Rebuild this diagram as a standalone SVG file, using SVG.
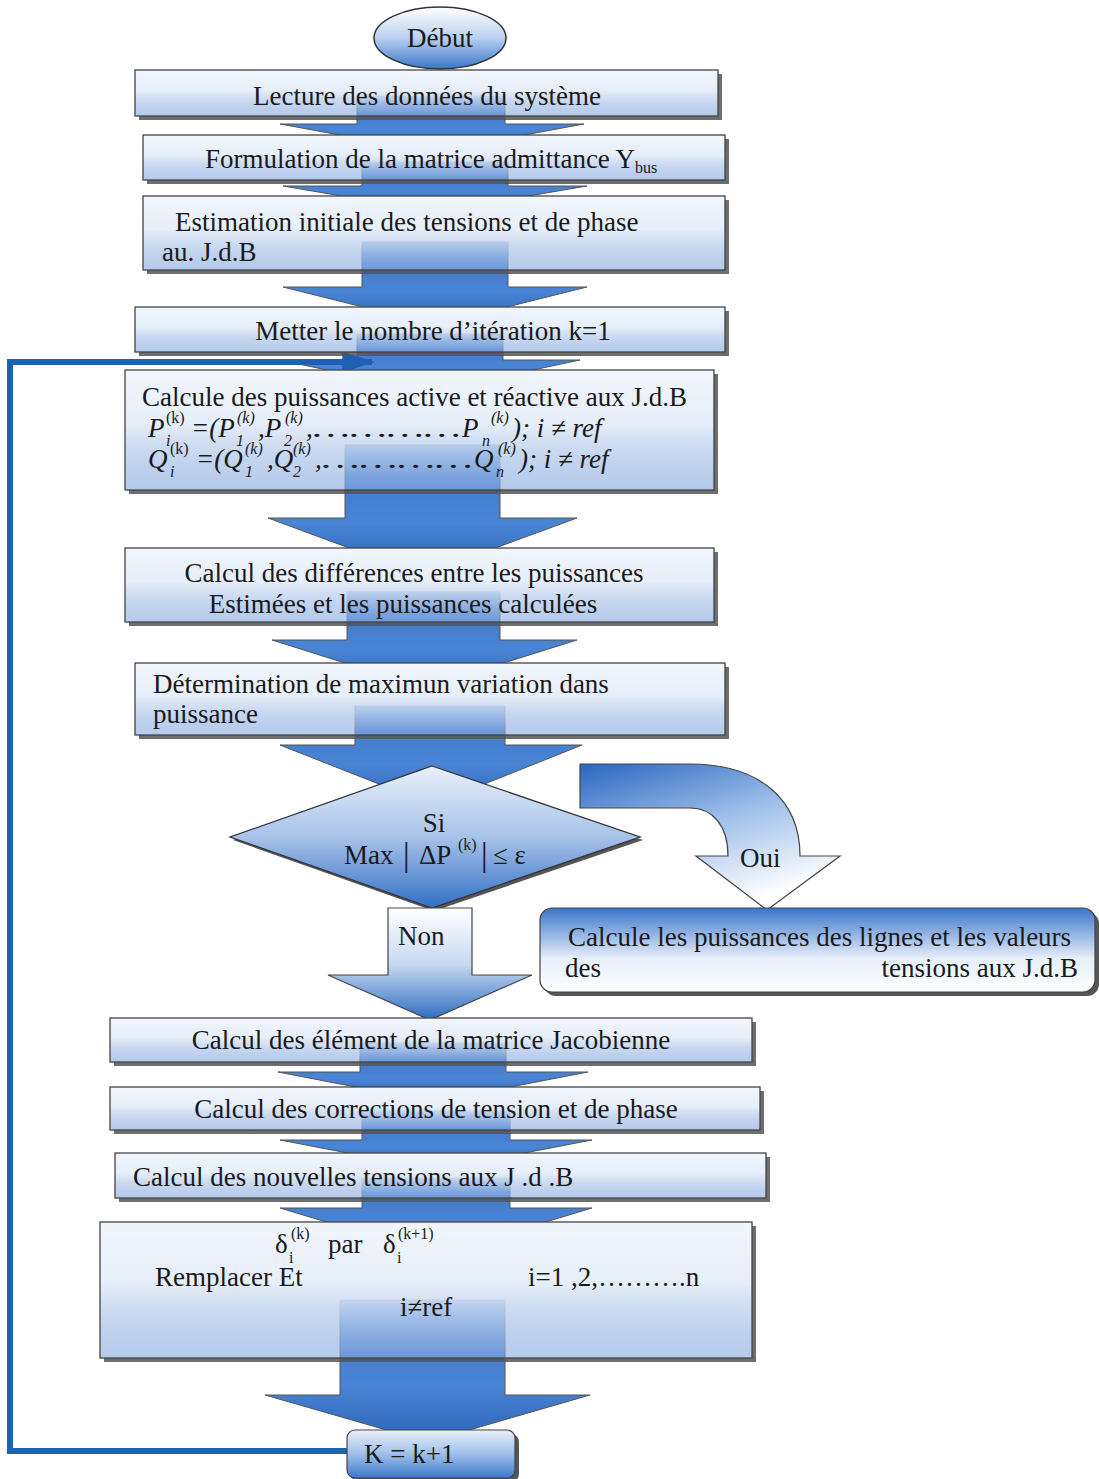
<svg xmlns="http://www.w3.org/2000/svg" width="1099" height="1479" viewBox="0 0 1099 1479">
<defs>
<linearGradient id="gBox" x1="0" y1="0" x2="0" y2="1">
<stop offset="0" stop-color="#f2f6fc"/>
<stop offset="0.45" stop-color="#e6eef9"/>
<stop offset="1" stop-color="#86a9de" stop-opacity="0.6"/>
</linearGradient>
<linearGradient id="gArrow" x1="0" y1="0" x2="0" y2="1">
<stop offset="0" stop-color="#3a76cc"/>
<stop offset="0.6" stop-color="#4a84d4"/>
<stop offset="1" stop-color="#2a63b8"/>
</linearGradient>
<linearGradient id="gDia" x1="0" y1="0" x2="0" y2="1">
<stop offset="0" stop-color="#eaf0f9"/>
<stop offset="0.5" stop-color="#a7c2ea"/>
<stop offset="1" stop-color="#336fc4"/>
</linearGradient>
<linearGradient id="gNon" x1="0" y1="0" x2="0" y2="1">
<stop offset="0" stop-color="#ffffff"/>
<stop offset="0.5" stop-color="#c7d9f2"/>
<stop offset="1" stop-color="#2f6cc2"/>
</linearGradient>
<linearGradient id="gOui" x1="0" y1="0" x2="0.55" y2="1">
<stop offset="0" stop-color="#2a66bf"/>
<stop offset="0.5" stop-color="#9bbde9"/>
<stop offset="1" stop-color="#ffffff"/>
</linearGradient>
<linearGradient id="gRound" x1="0" y1="0" x2="0" y2="1">
<stop offset="0" stop-color="#3a76ca"/>
<stop offset="0.6" stop-color="#e6eef9"/>
<stop offset="1" stop-color="#ffffff"/>
</linearGradient>
<linearGradient id="gEll" x1="0" y1="0" x2="0" y2="1">
<stop offset="0" stop-color="#ffffff"/>
<stop offset="0.5" stop-color="#b9d0f0"/>
<stop offset="1" stop-color="#3a76ca"/>
</linearGradient>
<linearGradient id="gK" x1="0" y1="0" x2="0" y2="1">
<stop offset="0" stop-color="#e9f0fa"/>
<stop offset="0.5" stop-color="#9fbfe9"/>
<stop offset="1" stop-color="#3c78cc"/>
</linearGradient>
<marker id="mLoop" viewBox="0 0 10 10" refX="9" refY="5" markerWidth="5.5" markerHeight="3.5" markerUnits="strokeWidth" orient="auto" preserveAspectRatio="none">
<path d="M0,0 L10,5 L0,10 z" fill="#1f60b4"/>
</marker>
</defs>
<style>
text{font-family:'Liberation Serif','DejaVu Serif',serif;fill:#1a1a1a}
.t{font-size:27px}
.ti{font-size:27px;font-style:italic}
.s{font-size:16px;font-style:normal}
.si{font-size:16px;font-style:italic}
.bar{font-size:33px}
.box{fill:url(#gBox);stroke:#444;stroke-width:1.3}
.sh{fill:#555;opacity:0.85}
.arr{fill:url(#gArrow);stroke:#555;stroke-width:1}
</style>
<rect width="1099" height="1479" fill="#ffffff"/>

<g id="connectors">
<path class="arr" d="M357,96 H505 V124 H584 L432,152 L280,124 H357 Z"/>
<path class="arr" d="M362,162 H508 V186 H587 L435,212 L283,186 H362 Z"/>
<path class="arr" d="M362,242 H508 V287 H587 L435,325 L283,287 H362 Z"/>
<path class="arr" d="M357,334 H503 V360 H580 L430,392 L280,360 H357 Z"/>
<path class="arr" d="M345,445 H500 V518 H577 L422,575 L268,518 H345 Z"/>
<path class="arr" d="M347,592 H500 V640 H577 L424,688 L272,640 H347 Z"/>
<path class="arr" d="M355,706 H505 V745 H582 L432,805 L280,745 H355 Z"/>
<path class="arr" d="M360,1043 H506 V1072 H588 L433,1102 L278,1072 H360 Z"/>
<path class="arr" d="M362,1111 H510 V1140 H592 L436,1170 L280,1140 H362 Z"/>
<path class="arr" d="M362,1178 H510 V1208 H592 L436,1255 L280,1208 H362 Z"/>
<path class="arr" d="M340,1300 H505 V1395 H590 L428,1442 L265,1395 H340 Z"/>
<path d="M347,1451 H10 V362 H372" fill="none" stroke="#1f60b4" stroke-width="6" marker-end="url(#mLoop)"/>
</g>

<g id="debut">
<ellipse cx="440" cy="38" rx="66" ry="31" fill="url(#gEll)" stroke="#333" stroke-width="1.5"/>
<text class="t" x="440" y="47" text-anchor="middle">Début</text>
</g>

<g id="lecture">
<path class="sh" d="M718,74 H722 V120 H139 V116 H718 Z"/>
<rect class="box" x="135" y="70" width="583" height="46"/>
<text class="t" x="427" y="105" text-anchor="middle">Lecture des données du système</text>
</g>

<g id="formulation">
<path class="sh" d="M725,139 H729 V184 H147 V180 H725 Z"/>
<rect class="box" x="143" y="135" width="582" height="45"/>
<text class="t" x="205" y="168">Formulation de la matrice admittance Y<tspan class="s" dy="5">bus</tspan></text>
</g>

<g id="estimation">
<path class="sh" d="M725,200 H729 V274 H147 V270 H725 Z"/>
<rect class="box" x="143" y="196" width="582" height="74"/>
<text class="t" x="175" y="231">Estimation initiale des tensions et de phase</text>
<text class="t" x="162" y="261">au. J.d.B</text>
</g>

<g id="metter">
<path class="sh" d="M725,311 H729 V356 H139 V352 H725 Z"/>
<rect class="box" x="135" y="307" width="590" height="45"/>
<text class="t" x="433" y="340" text-anchor="middle">Metter le nombre d’itération k=1</text>
</g>

<g id="calcule">
<path class="sh" d="M714,374 H718 V494 H129 V490 H714 Z"/>
<rect class="box" x="125" y="370" width="589" height="120"/>
<text class="t" x="142" y="406">Calcule des puissances active et réactive aux J.d.B</text>
<text class="ti" x="148" y="437">P<tspan class="si" x="166" y="446">i</tspan><tspan class="s" x="166" y="423">(k)</tspan><tspan x="191" y="437">=(P</tspan><tspan class="si" x="236" y="446">1</tspan><tspan class="si" x="237" y="423">(k)</tspan><tspan x="258" y="437">,P</tspan><tspan class="si" x="284" y="446">2</tspan><tspan class="si" x="285" y="423">(k)</tspan><tspan x="306" y="437">,</tspan><tspan x="313" y="437" textLength="148" lengthAdjust="spacingAndGlyphs">…………</tspan><tspan x="462" y="437">P</tspan><tspan class="si" x="482" y="446">n</tspan><tspan class="si" x="491" y="423">(k)</tspan><tspan x="512" y="437">); i ≠ ref</tspan></text>
<text class="ti" x="148" y="468">Q<tspan class="si" x="170" y="477">i</tspan><tspan class="s" x="170" y="454">(k)</tspan><tspan x="196" y="468">=(Q</tspan><tspan class="si" x="245" y="477">1</tspan><tspan class="si" x="245" y="454">(k)</tspan><tspan x="267" y="468">,Q</tspan><tspan class="si" x="293" y="477">2</tspan><tspan class="si" x="293" y="454">(k)</tspan><tspan x="315" y="468">,</tspan><tspan x="322" y="468" textLength="151" lengthAdjust="spacingAndGlyphs">…………</tspan><tspan x="474" y="468">Q</tspan><tspan class="si" x="496" y="477">n</tspan><tspan class="si" x="498" y="454">(k)</tspan><tspan x="519" y="468">); i ≠ ref</tspan></text>
</g>

<g id="differences">
<path class="sh" d="M714,552 H718 V626 H129 V622 H714 Z"/>
<rect class="box" x="125" y="548" width="589" height="74"/>
<text class="t" x="414" y="582" text-anchor="middle">Calcul des différences entre les puissances</text>
<text class="t" x="403" y="613" text-anchor="middle">Estimées  et les puissances calculées</text>
</g>

<g id="determination">
<path class="sh" d="M725,667 H729 V739 H139 V735 H725 Z"/>
<rect class="box" x="135" y="663" width="590" height="72"/>
<text class="t" x="153" y="693">Détermination de maximun variation dans</text>
<text class="t" x="153" y="723">puissance</text>
</g>

<g id="decision">
<path d="M434,769 L643,840 L434,911 L233,840 Z" fill="#555"/>
<path d="M432,766 L640,837 L432,908 L230,837 Z" fill="url(#gDia)" stroke="#333" stroke-width="1.3"/>
<text class="t" x="434" y="832" text-anchor="middle">Si</text>
<text class="t" x="344" y="864">Max<tspan class="bar" x="403" y="866">|</tspan><tspan x="419" y="864">ΔP</tspan><tspan class="s" x="458" y="850">(k)</tspan><tspan class="bar" x="481" y="866">|</tspan><tspan x="493" y="864">≤ ε</tspan></text>
</g>

<g id="non-arrow">
<path d="M388,908 H472 V975 H532 L430,1020 L328,975 H388 Z" fill="url(#gNon)" stroke="#444" stroke-width="1.2"/>
<text class="t" x="398" y="945">Non</text>
</g>

<g id="oui-arrow">
<path d="M580,764 H690 C760,764 800,800 800,856 H840 L767,910 L696,856 H728 C728,825 712,808 690,808 H580 Z" fill="url(#gOui)" stroke="#444" stroke-width="1.2"/>
<text class="t" x="740" y="867">Oui</text>
</g>

<g id="lignes">
<rect x="544" y="912" width="555" height="84" rx="12" fill="#555"/>
<rect x="540" y="908" width="555" height="84" rx="12" fill="url(#gRound)" stroke="#444" stroke-width="1.2"/>
<text class="t" x="568" y="946">Calcule les puissances des lignes et les valeurs</text>
<text class="t" x="565" y="977">des</text>
<text class="t" x="1078" y="977" text-anchor="end">tensions aux J.d.B</text>
</g>

<g id="jacobienne">
<path class="sh" d="M752,1022 H756 V1066 H114 V1062 H752 Z"/>
<rect class="box" x="110" y="1018" width="642" height="44"/>
<text class="t" x="431" y="1049" text-anchor="middle">Calcul des élément de  la matrice Jacobienne</text>
</g>

<g id="corrections">
<path class="sh" d="M760,1091 H764 V1134 H114 V1130 H760 Z"/>
<rect class="box" x="110" y="1087" width="650" height="43"/>
<text class="t" x="436" y="1118" text-anchor="middle">Calcul des corrections de tension et de phase</text>
</g>

<g id="nouvelles">
<path class="sh" d="M766,1157 H770 V1202 H119 V1198 H766 Z"/>
<rect class="box" x="115" y="1153" width="651" height="45"/>
<text class="t" x="133" y="1186">Calcul des nouvelles tensions aux J .d .B</text>
</g>

<g id="remplacer">
<path class="sh" d="M752,1226 H756 V1362 H104 V1358 H752 Z"/>
<rect class="box" x="100" y="1222" width="652" height="136"/>
<text class="t" x="275" y="1253">δ<tspan class="s" x="289" y="1263">i</tspan><tspan class="s" x="291" y="1239">(k)</tspan><tspan x="328" y="1253">par</tspan><tspan x="383" y="1253">δ</tspan><tspan class="s" x="397" y="1263">i</tspan><tspan class="s" x="398" y="1239">(k+1)</tspan></text>
<text class="t" x="155" y="1286">Remplacer Et</text>
<text class="t" x="528" y="1286">i=1 ,2,……….n</text>
<text class="t" x="400" y="1316">i≠ref</text>
</g>

<g id="increment">
<rect x="351" y="1434" width="168" height="48" rx="8" fill="#555"/>
<rect x="347" y="1430" width="168" height="48" rx="8" fill="url(#gK)" stroke="#444" stroke-width="1.2"/>
<text class="t" x="364" y="1463">K = k+1</text>
</g>
</svg>
